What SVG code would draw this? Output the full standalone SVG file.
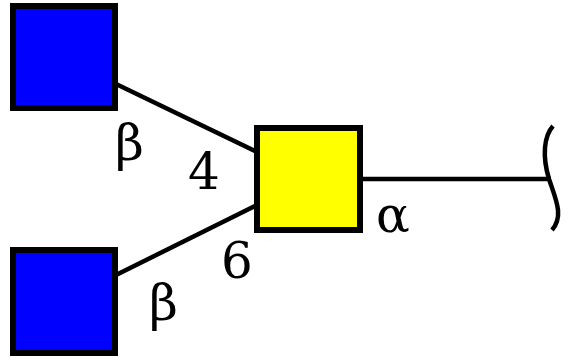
<svg xmlns="http://www.w3.org/2000/svg" width="571" height="363" viewBox="0 0 571 363">
<style>
.n{stroke:#000;stroke-width:6}
.e{stroke:#000;stroke-width:4.5;fill:none}
.t{font-family:"DejaVu Serif",serif;font-size:50px;fill:#000}
</style>
<rect width="571" height="363" fill="#fff"/>
<g id="connectors">
<line class="e" x1="116" y1="84" x2="257" y2="152"/>
<line class="e" x1="116" y1="275" x2="257" y2="205"/>
<line class="e" x1="360" y1="179" x2="551" y2="179"/>
<path class="e" d="M553,126 C544,136 542,156 549,179 C556,200 564,216 552,230"/>
</g>
<g id="node-top-blue"><rect class="n" x="13" y="6" width="102" height="102" fill="#0000ff"/></g>
<g id="node-bottom-blue"><rect class="n" x="13" y="250" width="102" height="103" fill="#0000ff"/></g>
<g id="node-yellow"><rect class="n" x="257" y="128" width="103" height="102" fill="#ffff00"/></g>
<g id="labels">
<text class="t" x="115" y="160">β</text>
<text class="t" x="188" y="189">4</text>
<text class="t" x="221" y="278">6</text>
<text class="t" x="149" y="320">β</text>
<text class="t" x="376" y="232">α</text>
</g>
</svg>
